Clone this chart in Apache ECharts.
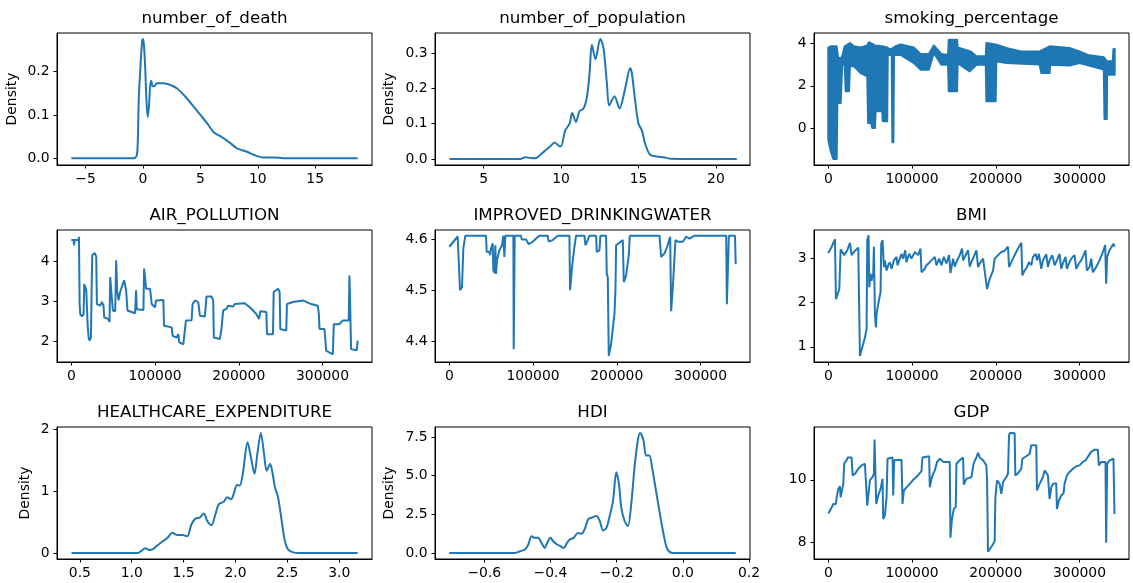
<!DOCTYPE html>
<html><head><meta charset="utf-8">
<script src="https://cdn.jsdelivr.net/npm/echarts@6/dist/echarts.min.js"></script>
<style>html,body{margin:0;padding:0;background:#fff}#c{width:1133px;height:583px}</style>
</head><body><div id="c"></div>
<script>
// ---------- DATA ----------
const titles = ['number_of_death','number_of_population','smoking_percentage','AIR_POLLUTION','IMPROVED_DRINKINGWATER','BMI','HEALTHCARE_EXPENDITURE','HDI','GDP'];

const deathKde = [[-6.24,0],[-0.8,0],[-0.55,0.006],[-0.45,0.04],[-0.37,0.134],[-0.22,0.211],[-0.08,0.268],[0,0.275],[0.08,0.262],[0.19,0.211],[0.30,0.134],[0.42,0.095],[0.52,0.12],[0.62,0.165],[0.72,0.179],[0.85,0.166],[0.98,0.166],[1.21,0.173],[1.81,0.173],[2.39,0.169],[2.97,0.161],[3.70,0.142],[4.42,0.119],[5.0,0.100],[5.58,0.081],[6.16,0.060],[6.74,0.051],[7.61,0.035],[8.19,0.023],[9.06,0.015],[9.64,0.008],[10.5,0.002],[11.4,0.002],[12.2,0],[18.7,0]];

const popKde = [[2.8,0],[7.37,0],[7.69,0.005],[8.01,0.003],[8.34,0.002],[8.66,0.012],[8.98,0.024],[9.30,0.036],[9.58,0.047],[9.84,0.038],[9.99,0.036],[10.27,0.081],[10.55,0.10],[10.72,0.13],[10.96,0.105],[11.19,0.135],[11.45,0.143],[11.67,0.176],[11.84,0.243],[11.99,0.324],[12.22,0.283],[12.53,0.34],[12.74,0.314],[12.96,0.214],[13.11,0.152],[13.45,0.178],[13.77,0.143],[14.14,0.20],[14.46,0.257],[14.57,0.243],[14.78,0.167],[15.0,0.10],[15.22,0.081],[15.43,0.043],[15.75,0.012],[16.19,0.007],[16.62,0.005],[17.05,0.001],[21.35,0]];

const smokingUpper = [[0,3.8],[2860,3.86],[10000,3.86],[11560,3.35],[14780,3.27],[16690,3.4],[19550,3.86],[25860,4.01],[30630,3.86],[38580,3.8],[46490,3.9],[48510,4.05],[55660,3.9],[64360,3.86],[70320,3.8],[74370,3.7],[80330,3.86],[86290,3.95],[102150,3.8],[110130,3.5],[120030,3.5],[125990,3.9],[135000,3.5],[143000,3.45],[143860,4.17],[153760,4.17],[154500,3.8],[169730,3.62],[176880,3.39],[188000,3.4],[188800,4.01],[199880,3.95],[212640,3.78],[230000,3.62],[252320,3.62],[264250,3.86],[288080,3.78],[300000,3.62],[310000,3.45],[329000,3.35],[332570,3.15],[339690,3.15],[340500,3.73],[342000,3.73]];

const smokingLower = [[0,-0.54],[2860,-1.08],[5960,-1.44],[10000,-1.44],[10800,1.19],[14780,1.19],[16690,3.0],[19550,3.0],[20740,1.74],[24670,1.74],[25860,2.92],[30630,2.92],[38580,2.6],[46490,2.45],[47500,0.25],[51000,0.25],[52440,0.01],[55660,0.01],[56500,0.8],[64360,0.8],[65000,0.33],[70320,0.33],[71000,3.45],[75700,3.45],[76500,-0.66],[77700,-0.66],[78500,3.45],[86290,3.45],[102150,3.07],[110130,2.76],[120030,2.76],[125990,3.54],[135000,2.99],[143000,2.99],[143860,1.74],[153760,1.74],[154500,3.07],[168890,2.68],[176880,2.99],[188000,2.99],[188800,1.27],[199880,1.27],[200700,3.15],[212640,3.07],[252320,3.0],[254350,2.6],[264250,2.6],[265000,2.99],[288080,2.95],[300000,3.07],[329000,2.76],[329800,0.44],[332570,0.44],[333000,2.52],[342000,2.52]];

const airPollution = [[0,4.52],[2778,4.52],[3174,4.39],[3968,4.52],[8730,4.52],[9126,4.6],[9700,4.6],[9920,2.93],[10714,2.68],[12698,2.62],[14682,2.68],[15475,3.43],[16666,3.45],[17856,3.27],[19443,2.43],[20634,2.1],[21824,2.02],[23411,2.1],[24205,3.27],[24998,4.14],[26586,4.1],[28173,4.2],[29760,4.1],[30554,2.93],[34522,2.89],[36506,2.98],[37696,3.02],[38490,2.89],[39283,2.6],[44442,2.56],[45632,2.48],[46426,3.6],[48410,3.58],[49600,2.77],[52378,2.75],[53568,4.02],[54758,3.27],[56346,3.02],[58330,3.23],[61504,3.43],[63091,3.52],[65472,3.27],[67059,2.77],[76186,2.7],[77376,3.27],[78170,2.8],[86106,2.78],[86899,3.81],[88090,3.6],[89280,3.31],[94042,3.31],[96026,2.93],[99994,2.85],[101184,3.02],[109914,3.03],[110707,2.39],[119834,2.35],[121024,2.14],[125786,2.1],[127770,2.18],[128960,1.98],[133722,1.93],[135706,1.89],[136896,2.52],[143642,2.53],[144832,2.93],[147610,3.02],[151578,2.98],[153562,2.64],[159514,2.62],[161498,3.12],[167450,3.12],[169434,3.02],[170227,2.1],[177370,2.06],[179354,2.31],[181338,2.77],[185306,2.81],[187290,2.89],[193242,2.87],[195226,2.93],[207130,2.95],[213082,2.85],[217050,2.77],[221018,2.68],[224192,2.56],[225779,2.75],[232922,2.73],[233715,2.18],[240858,2.18],[241651,3.23],[246810,3.31],[248794,3.23],[249587,2.31],[256730,2.27],[257523,2.93],[264666,2.98],[265459,3.02],[276570,3.02],[286490,2.93],[294426,2.89],[295616,2.68],[296410,2.31],[302362,2.31],[304346,1.77],[312282,1.68],[313472,2.43],[320218,2.43],[324186,2.52],[331328,2.52],[332122,3.64],[332915,3.02],[334106,1.81],[340850,1.78],[342000,2.02]];

const drinkingWater = [[0,4.585],[9960,4.605],[11952,4.6066],[12749,4.5],[15139,4.506],[16733,4.582],[19123,4.6066],[43824,4.6066],[44621,4.575],[47808,4.575],[48605,4.5685],[49800,4.5816],[51792,4.5915],[52589,4.539],[53784,4.534],[54979,4.588],[55776,4.532],[56971,4.559],[59760,4.578],[62947,4.588],[64541,4.6066],[65736,4.565],[66931,4.6066],[76493,4.6066],[76891,4.385],[78086,4.6066],[85656,4.6066],[86453,4.5993],[91632,4.5993],[94819,4.59],[99600,4.5948],[103584,4.601],[107568,4.6066],[117528,4.6066],[118723,4.595],[123504,4.598],[129480,4.6066],[143424,4.6066],[144221,4.5],[146611,4.5456],[149400,4.585],[151392,4.6066],[161352,4.6066],[162547,4.588],[165336,4.598],[167328,4.6066],[175296,4.6066],[176093,4.575],[179280,4.578],[180475,4.6066],[187248,4.6066],[188045,4.532],[189240,4.526],[190435,4.372],[193224,4.395],[197208,4.454],[198403,4.5],[199200,4.588],[207168,4.598],[208363,4.516],[211152,4.529],[214339,4.5685],[215534,4.6066],[250992,4.6066],[252984,4.565],[256968,4.572],[260155,4.585],[263741,4.6046],[264936,4.459],[266928,4.506],[270115,4.598],[272904,4.5948],[278880,4.5948],[282864,4.6046],[286848,4.601],[292824,4.6066],[330672,4.6066],[331469,4.473],[333461,4.475],[333859,4.6066],[341200,4.6066],[342000,4.551]];

const bmi = [[0,3.13],[3974,3.27],[7948,3.44],[9140,2.08],[10730,2.12],[13114,2.31],[14704,3.21],[17088,3.25],[19075,3.08],[22652,3.19],[25831,3.36],[27818,3.08],[31792,3.18],[35766,3.25],[36958,3.21],[37753,0.79],[43714,1.21],[45701,1.40],[46496,3.42],[48085,3.53],[48880,2.35],[50470,2.66],[51662,2.5],[53649,2.66],[54444,3.27],[55636,1.74],[56828,1.44],[57623,1.74],[59610,1.97],[62392,2.24],[63187,3.34],[64776,3.42],[65571,3.46],[66366,2.81],[67558,2.96],[69545,2.73],[71532,2.85],[73519,2.92],[75506,2.77],[78288,2.96],[81467,3.04],[82659,2.85],[85441,3.0],[87428,3.11],[89415,3.0],[91799,3.19],[93389,2.92],[96568,3.11],[99350,3.0],[103324,3.15],[107298,3.08],[110080,3.23],[111272,2.69],[115246,2.77],[117233,2.85],[121207,2.92],[123194,2.89],[127168,3.04],[129155,2.85],[132334,3.0],[135116,2.85],[137898,3.04],[141077,2.89],[144256,3.08],[145845,2.67],[149025,3.0],[151012,2.82],[153794,2.96],[156973,3.08],[159755,3.23],[160947,2.96],[162934,3.04],[166908,3.19],[168895,2.82],[170882,2.92],[173664,3.04],[176843,3.19],[178830,2.81],[180817,2.89],[184791,3.0],[189560,2.31],[192739,2.54],[196713,2.73],[198700,3.0],[202674,3.08],[206648,3.15],[210622,3.18],[214596,3.27],[215788,2.81],[218570,2.92],[222544,3.08],[226518,3.23],[230492,3.36],[231684,2.62],[234466,2.73],[237248,2.81],[239632,2.92],[242414,2.85],[244401,3.04],[247580,3.11],[249170,2.96],[251554,3.11],[254336,2.77],[256323,2.96],[260297,3.10],[262284,2.81],[264271,2.96],[267450,3.08],[270232,2.85],[273014,2.96],[276193,3.11],[278180,2.77],[280167,2.89],[283346,3.04],[284935,2.77],[287320,2.89],[290102,3.0],[294076,3.08],[296063,2.77],[299242,2.89],[302024,2.96],[304806,3.08],[307190,3.19],[308780,2.73],[311959,2.81],[313946,3.0],[315933,2.69],[319907,2.81],[323881,2.96],[327855,3.15],[330637,3.31],[331829,2.43],[333021,3.04],[335803,3.19],[340572,3.34],[342000,3.27]];

const healthKde = [[0.42,0],[1.058,0],[1.09,0.03],[1.13,0.075],[1.17,0.05],[1.2,0.06],[1.25,0.126],[1.30,0.19],[1.345,0.245],[1.39,0.326],[1.44,0.29],[1.49,0.29],[1.535,0.27],[1.575,0.46],[1.616,0.56],[1.654,0.57],[1.695,0.64],[1.727,0.52],[1.769,0.45],[1.807,0.63],[1.839,0.79],[1.887,0.83],[1.919,0.90],[1.957,0.87],[1.982,0.95],[2.014,1.10],[2.04,1.09],[2.07,1.28],[2.116,1.79],[2.148,1.55],[2.183,1.28],[2.21,1.60],[2.244,1.94],[2.275,1.60],[2.30,1.33],[2.333,1.44],[2.358,1.28],[2.38,1.06],[2.41,0.90],[2.445,0.52],[2.476,0.19],[2.508,0.055],[2.555,0.01],[2.62,0],[3.177,0]];

const hdiKde = [[-0.706,0],[-0.508,0],[-0.492,0.11],[-0.477,0.22],[-0.467,0.55],[-0.457,1.09],[-0.447,0.98],[-0.437,0.98],[-0.427,0.65],[-0.417,0.33],[-0.41,0.65],[-0.40,0.98],[-0.392,0.76],[-0.38,0.55],[-0.37,0.44],[-0.36,0.33],[-0.35,0.65],[-0.342,0.87],[-0.33,0.98],[-0.317,1.30],[-0.307,1.24],[-0.297,1.52],[-0.286,2.18],[-0.276,2.28],[-0.261,2.39],[-0.251,2.07],[-0.241,1.46],[-0.231,1.63],[-0.221,2.39],[-0.211,3.37],[-0.201,5.22],[-0.193,4.46],[-0.186,2.94],[-0.176,2.07],[-0.166,1.74],[-0.156,3.16],[-0.146,5.54],[-0.136,7.29],[-0.129,7.76],[-0.119,7.29],[-0.111,6.31],[-0.101,6.31],[-0.093,5.54],[-0.081,4.02],[-0.069,2.50],[-0.056,0.98],[-0.046,0.22],[-0.031,0],[0.16,0]];

const gdp = [[0,8.93],[1987,8.96],[3974,9.12],[5961,9.23],[9140,9.23],[9935,9.44],[11922,9.71],[13909,9.79],[14704,9.44],[17088,9.39],[17883,9.87],[19075,10.53],[21857,10.62],[23049,10.71],[27818,10.71],[29010,10.14],[31792,10.19],[35766,10.35],[39740,10.46],[43714,10.51],[45701,10.53],[46496,9.18],[48483,9.12],[49675,9.98],[52854,10.09],[54444,10.19],[55239,11.28],[56431,11.32],[57226,9.23],[59610,9.50],[62392,9.71],[64776,10.03],[65571,8.75],[67558,8.86],[69545,9.44],[70737,10.67],[72724,10.71],[76698,10.71],[77493,9.50],[78685,10.62],[87428,10.64],[88620,9.23],[90210,9.66],[93389,9.76],[97363,9.87],[101337,10.0],[105311,10.09],[109285,10.21],[111272,10.28],[112464,10.71],[120412,10.75],[121207,9.76],[123194,10.03],[125181,10.19],[127168,10.30],[129950,10.57],[133129,10.67],[137103,10.57],[145051,10.57],[145846,8.16],[147435,8.70],[149820,9.07],[152204,9.14],[152999,10.51],[156973,10.62],[160947,10.71],[161742,9.85],[164921,10.03],[170882,10.09],[173664,10.53],[176843,10.71],[178830,10.86],[180817,10.71],[184791,10.62],[188765,10.46],[189560,10.03],[190752,7.71],[192739,7.79],[196713,7.95],[198700,8.05],[199495,9.44],[201482,9.98],[204661,9.87],[206648,9.55],[208635,9.93],[212609,10.09],[214596,10.19],[215788,11.42],[217378,11.50],[222544,11.48],[223339,10.14],[226518,10.21],[230492,10.35],[231684,10.67],[236453,10.75],[240427,10.83],[242414,11.10],[248375,11.10],[249170,9.66],[252349,9.87],[256323,10.09],[258310,10.30],[262284,10.14],[264271,9.39],[266258,9.76],[268245,9.87],[272219,9.89],[273014,9.07],[275398,9.34],[278180,9.50],[280962,9.57],[282154,9.87],[284935,10.14],[288115,10.25],[292089,10.35],[296063,10.43],[300037,10.46],[304011,10.57],[307190,10.62],[309972,10.73],[313946,10.89],[317920,10.96],[321894,10.96],[323086,10.46],[325868,10.57],[331034,10.57],[331829,8.0],[333021,10.51],[335803,10.62],[340572,10.67],[341764,8.91]];

// tick values and labels
const deathXTicks = [-5,0,5,10,15], deathXLabels = ['\u22125','0','5','10','15'];
const deathYTicks = [0,0.1,0.2], deathYLabels = ['0.0','0.1','0.2'];
const popXTicks = [5,10,15,20], popXLabels = ['5','10','15','20'];
const popYTicks = [0,0.1,0.2,0.3], popYLabels = ['0.0','0.1','0.2','0.3'];
const indexTicks = [0,100000,200000,300000], indexLabels = ['0','100000','200000','300000'];
const smokYTicks = [0,2,4], smokYLabels = ['0','2','4'];
const airYTicks = [2,3,4], airYLabels = ['2','3','4'];
const waterYTicks = [4.4,4.5,4.6], waterYLabels = ['4.4','4.5','4.6'];
const bmiYTicks = [1,2,3], bmiYLabels = ['1','2','3'];
const healthXTicks = [0.5,1.0,1.5,2.0,2.5,3.0], healthXLabels = ['0.5','1.0','1.5','2.0','2.5','3.0'];
const healthYTicks = [0,1,2], healthYLabels = ['0','1','2'];
const hdiXTicks = [-0.6,-0.4,-0.2,0.0,0.2], hdiXLabels = ['\u22120.6','\u22120.4','\u22120.2','0.0','0.2'];
const hdiYTicks = [0,2.5,5,7.5], hdiYLabels = ['0.0','2.5','5.0','7.5'];
const gdpYTicks = [8,10], gdpYLabels = ['8','10'];

// ---------- CHART ----------
const FONT = 'DejaVu Sans';
const colLeft = [57, 435, 814], rowTop = [33, 230, 427], W = 315, H = 132;
const idxRange = [-17100, 359100];
const panels = [
  {data: deathKde, kde: true, x: [-7.49, 19.95], y: [-0.0155, 0.289], xt: deathXTicks, xl: deathXLabels, yt: deathYTicks, yl: deathYLabels, gap: 38},
  {data: popKde, kde: true, x: [1.86, 22.2], y: [-0.017, 0.357], xt: popXTicks, xl: popXLabels, yt: popYTicks, yl: popYLabels, gap: 39},
  {band: true, x: idxRange, y: [-1.727, 4.485], xt: indexTicks, xl: indexLabels, yt: smokYTicks, yl: smokYLabels},
  {data: airPollution, x: idxRange, y: [1.49, 4.77], xt: indexTicks, xl: indexLabels, yt: airYTicks, yl: airYLabels},
  {data: drinkingWater, x: idxRange, y: [4.36, 4.6177], xt: indexTicks, xl: indexLabels, yt: waterYTicks, yl: waterYLabels},
  {data: bmi, x: idxRange, y: [0.655, 3.65], xt: indexTicks, xl: indexLabels, yt: bmiYTicks, yl: bmiYLabels},
  {data: healthKde, kde: true, x: [0.28, 3.315], y: [-0.097, 2.037], xt: healthXTicks, xl: healthXLabels, yt: healthYTicks, yl: healthYLabels, gap: 25},
  {data: hdiKde, kde: true, x: [-0.749, 0.203], y: [-0.388, 8.15], xt: hdiXTicks, xl: hdiXLabels, yt: hdiYTicks, yl: hdiYLabels, gap: 39},
  {data: gdp, x: idxRange, y: [7.48, 11.68], xt: indexTicks, xl: indexLabels, yt: gdpYTicks, yl: gdpYLabels}
];

function fmt(ticks, labels) {
  return function (v) {
    for (let i = 0; i < ticks.length; i++) {
      if (Math.abs(ticks[i] - v) <= 1e-7 * Math.max(1, Math.abs(ticks[i]))) return labels[i];
    }
    return '';
  };
}

const grid = [], xAxis = [], yAxis = [], series = [], graphic = [];
const LINE = '#1f77b4';
panels.forEach((p, i) => {
  const r = Math.floor(i / 3), c = i % 3;
  grid.push({left: colLeft[c], top: rowTop[r], width: W, height: H, show: true, borderColor: '#000', borderWidth: 1, backgroundColor: 'transparent'});
  const common = {
    gridIndex: i, type: 'value', splitLine: {show: false},
    axisLine: {show: true, onZero: false, lineStyle: {color: '#000', width: 1}},
    axisTick: {show: true, inside: false, length: 3.5, lineStyle: {color: '#000', width: 1}},
    axisLabel: {show: true, color: '#000', fontFamily: FONT, fontSize: 13.9, margin: 7.5, showMinLabel: true, showMaxLabel: true}
  };
  xAxis.push(Object.assign({}, common, {
    min: p.x[0], max: p.x[1],
    axisTick: Object.assign({}, common.axisTick, {customValues: p.xt}),
    axisLabel: Object.assign({}, common.axisLabel, {customValues: p.xt, formatter: fmt(p.xt, p.xl)})
  }));
  const ya = Object.assign({}, common, {
    min: p.y[0], max: p.y[1],
    axisTick: Object.assign({}, common.axisTick, {customValues: p.yt}),
    axisLabel: Object.assign({}, common.axisLabel, {customValues: p.yt, formatter: fmt(p.yt, p.yl)})
  });
  if (p.kde) {
    Object.assign(ya, {name: 'Density', nameLocation: 'middle', nameGap: p.gap, nameRotate: 90,
      nameTextStyle: {color: '#000', fontFamily: FONT, fontSize: 13.9}});
  }
  yAxis.push(ya);
  if (p.band) {
    series.push({
      type: 'custom', xAxisIndex: i, yAxisIndex: i, data: [[0, 0]], clip: true,
      renderItem: function (params, api) {
        const pts = smokingUpper.map(q => api.coord(q))
          .concat(smokingLower.slice().reverse().map(q => api.coord(q)));
        return {type: 'polygon', shape: {points: pts},
          style: {fill: LINE, stroke: LINE, lineWidth: 2, lineJoin: 'round'}};
      }
    });
  } else {
    series.push({
      type: 'line', xAxisIndex: i, yAxisIndex: i, data: p.data, showSymbol: false,
      smooth: p.kde ? 0.3 : false, clip: true,
      lineStyle: {color: LINE, width: 2}, itemStyle: {color: LINE}
    });
  }
  graphic.push({type: 'text', x: colLeft[c] + W / 2, y: rowTop[r] - 23,
    style: {text: titles[i], fill: '#000', font: '16.7px "' + FONT + '"', textAlign: 'center', textVerticalAlign: 'top'}});
});

const chart = echarts.init(document.getElementById('c'), null, {renderer: 'canvas'});
chart.setOption({animation: false, backgroundColor: '#fff', grid, xAxis, yAxis, series, graphic});
</script>
</body></html>
